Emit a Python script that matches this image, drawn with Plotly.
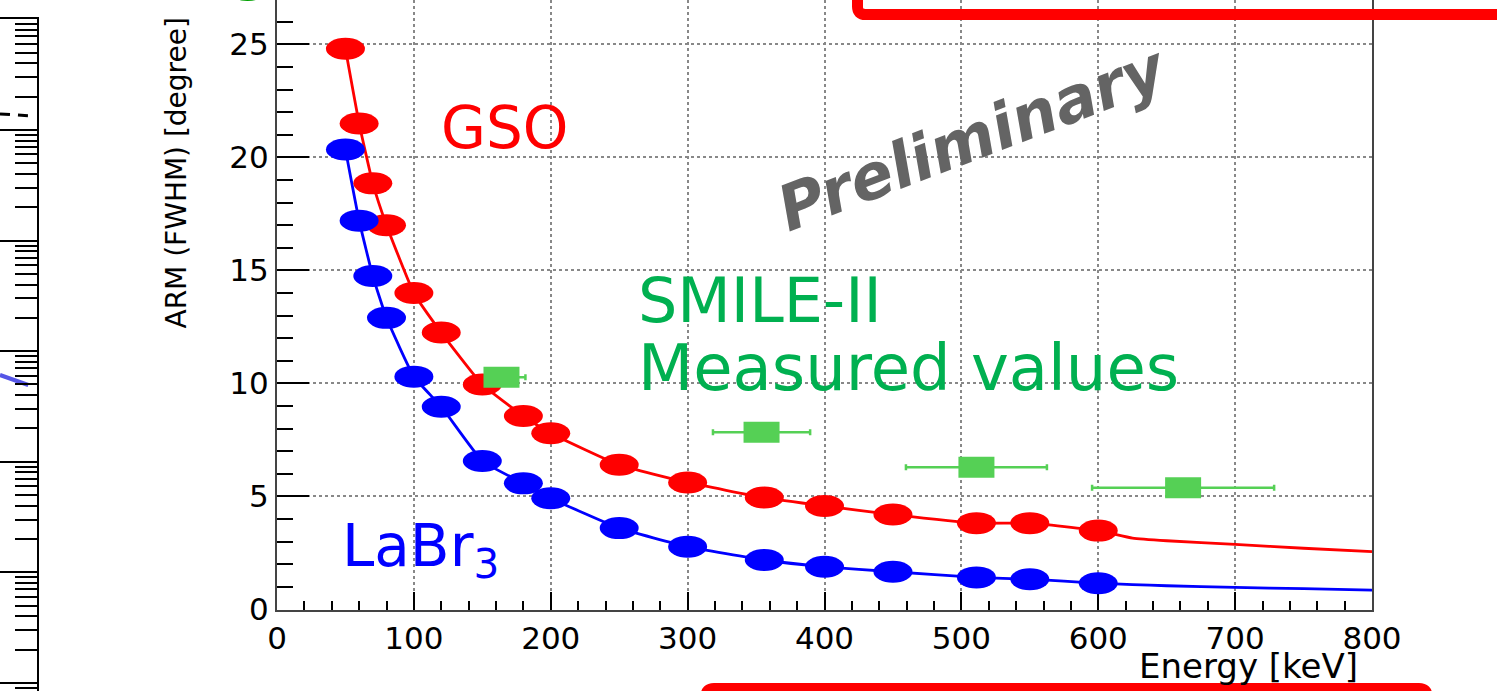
import plotly.graph_objects as go

W, H = 1497, 691

# ---------------- data ----------------
energy_sim = [50, 60, 70, 80, 100, 120, 150, 180, 200, 250, 300, 356, 400, 450, 511, 550, 600]
arm_gso = [24.8, 21.5, 18.85, 17.0, 14.0, 12.25, 9.95, 8.56, 7.8, 6.4, 5.62, 4.95, 4.58, 4.2, 3.82, 3.82, 3.49]
arm_labr3 = [20.35, 17.2, 14.75, 12.9, 10.3, 8.97, 6.57, 5.58, 4.92, 3.6, 2.78, 2.19, 1.89, 1.67, 1.42, 1.34, 1.16]

energy_ext = [625, 650, 700, 750, 800]
arm_gso_ext = [3.16, 3.04, 2.88, 2.71, 2.56]
arm_labr3_ext = [1.1, 1.05, 0.98, 0.92, 0.86]

energy_meas = [164, 354, 511, 662]
energy_meas_err = [17.5, 35.5, 51.5, 66.5]
arm_meas = [10.27, 7.84, 6.29, 5.38]

# partially visible neighbouring chart (left edge)
left_x_blue = [0.0, 0.77]
left_y_blue = [6.08, 4.94]
left_x_dash = [0.0, 0.87]
left_y_dash = [1393, 1336]

x_ticks = [0, 100, 200, 300, 400, 500, 600, 700, 800]
y_ticks = [0, 5, 10, 15, 20, 25]

RED = "#ff0000"
BLUE = "#0000ff"
GREEN_M = "#55d055"
GREEN_T = "#00b050"


def px(x):
    return x / W


def py(y):
    return 1 - y / H


fig = go.Figure()

# GSO curve
fig.add_trace(go.Scatter(x=energy_sim + energy_ext, y=arm_gso + arm_gso_ext, mode="lines",
                         line=dict(color=RED, width=2.8, shape="spline", smoothing=0.4),
                         showlegend=False, name="GSO"))
# LaBr3 curve
fig.add_trace(go.Scatter(x=energy_sim + energy_ext, y=arm_labr3 + arm_labr3_ext, mode="lines",
                         line=dict(color=BLUE, width=2.8, shape="spline", smoothing=0.4),
                         showlegend=False, name="LaBr3"))
# measured values with x error bars
fig.add_trace(go.Scatter(x=energy_meas, y=arm_meas, mode="markers",
                         marker=dict(symbol="square", size=2, color=GREEN_M),
                         error_x=dict(type="data", array=energy_meas_err, color=GREEN_M,
                                      thickness=2.5, width=3),
                         showlegend=False, name="SMILE-II measured"))

# left neighbouring chart traces
fig.add_trace(go.Scatter(x=left_x_blue, y=left_y_blue, xaxis="x2", yaxis="y2", mode="lines",
                         line=dict(color="#5555e6", width=4), showlegend=False))
fig.add_trace(go.Scatter(x=left_x_dash, y=left_y_dash, xaxis="x2", yaxis="y2", mode="lines",
                         line=dict(color="black", width=3, dash="10px,8px"), showlegend=False))

shapes = []
# elliptical markers (the picture is horizontally stretched)
for xs, ys, col in [(energy_sim, arm_gso, RED), (energy_sim, arm_labr3, BLUE)]:
    for xv, yv in zip(xs, ys):
        shapes.append(dict(type="circle", xref="x", yref="y", xsizemode="pixel", ysizemode="pixel",
                           xanchor=xv, yanchor=yv, x0=-19.5, x1=19.5, y0=-11, y1=11,
                           fillcolor=col, line=dict(width=0), layer="above"))
for xv, yv in zip(energy_meas, arm_meas):
    shapes.append(dict(type="rect", xref="x", yref="y", xsizemode="pixel", ysizemode="pixel",
                       xanchor=xv, yanchor=yv, x0=-18, x1=18, y0=-10.5, y1=10.5,
                       fillcolor=GREEN_M, line=dict(width=0), layer="above"))

# slide decorations: red rounded outlines
r = 8
top_path = (f"M {px(857.5)},{py(-20)} L {px(857.5)},{py(14.5 - r)} "
            f"Q {px(857.5)},{py(14.5)} {px(857.5 + r)},{py(14.5)} L {px(1530)},{py(14.5)}")
bot_path = (f"M {px(706)},{py(720)} L {px(706)},{py(688.5 + r)} "
            f"Q {px(706)},{py(688.5)} {px(706 + r)},{py(688.5)} L {px(1427 - r)},{py(688.5)} "
            f"Q {px(1427)},{py(688.5)} {px(1427)},{py(688.5 + r)} L {px(1427)},{py(720)}")
for p in (top_path, bot_path):
    shapes.append(dict(type="path", xref="paper", yref="paper", path=p,
                       line=dict(color=RED, width=11), layer="above"))

TXT = "DejaVu Sans"
annotations = [
    dict(text="GSO", x=px(504), y=py(128), xanchor="center", yanchor="middle",
         font=dict(family=TXT, size=58, color=RED)),
    dict(text="SMILE-II", x=px(636), y=py(300), xanchor="left", yanchor="middle",
         font=dict(family=TXT, size=62, color=GREEN_T)),
    dict(text="Measured values", x=px(636), y=py(368), xanchor="left", yanchor="middle",
         font=dict(family=TXT, size=64, color=GREEN_T)),
    dict(text="LaBr<sub>3</sub>", x=px(340), y=py(550), xanchor="left", yanchor="middle",
         font=dict(family=TXT, size=58, color=BLUE)),
    dict(text="Preliminary", x=px(972), y=py(138), xanchor="center", yanchor="middle", textangle=-21,
         font=dict(family=TXT, size=63, color="#646464", weight="bold", style="italic")),
    dict(text="ARM (FWHM) [degree]", x=px(176), y=py(16), xanchor="center", yanchor="top", textangle=-90,
         font=dict(family=TXT, size=28, color="black")),
    dict(text="Energy [keV]", x=px(1360), y=py(666), xanchor="right", yanchor="middle",
         font=dict(family=TXT, size=34, color="black")),
    dict(text="g", x=px(250), y=py(4), xanchor="center", yanchor="bottom",
         font=dict(family=TXT, size=60, color="#00a000", weight="bold")),
]
for a in annotations:
    a.update(xref="paper", yref="paper", showarrow=False)

axis_common = dict(showline=True, linecolor="#444", linewidth=2, mirror=True, automargin=False,
                   showgrid=True, gridcolor="#888", griddash="dot", gridwidth=1.5,
                   zeroline=False, ticks="inside", tickwidth=2, tickcolor="black",
                   tickfont=dict(family=TXT, size=31, color="black"))

fig.update_layout(
    width=W, height=H,
    margin=dict(l=0, r=0, t=0, b=0, pad=0, autoexpand=False),
    paper_bgcolor="white", plot_bgcolor="rgba(0,0,0,0)",
    showlegend=False,
    xaxis=dict(domain=[px(277), px(1372)], range=[0, 800], tickvals=x_ticks, ticklen=18, anchor="y",
               minor=dict(dtick=20, ticklen=9, tickwidth=2, ticks="inside", tickcolor="black", showgrid=False),
               **axis_common),
    yaxis=dict(domain=[81.5 / H, 1], range=[0, 26.96], tickvals=y_ticks, ticklen=32, anchor="x",
               minor=dict(dtick=1, ticklen=16, tickwidth=2, ticks="inside", tickcolor="black", showgrid=False),
               **axis_common),
    xaxis2=dict(domain=[0, px(36.7)], range=[0, 1], anchor="y2", side="top", showline=True,
                linecolor="black", linewidth=2, showticklabels=False, ticks="", showgrid=False,
                zeroline=False, automargin=False),
    yaxis2=dict(domain=[0, 1 - 19.3 / H], type="log", range=[-2.073, 4], anchor="x2", side="right",
                showline=True, linecolor="black", linewidth=2, ticks="inside", ticklen=40, tickwidth=2,
                tickcolor="black", dtick=1, showticklabels=False, showgrid=False, zeroline=False,
                automargin=False,
                minor=dict(ticks="inside", ticklen=22, tickwidth=2, dtick="D1", tickcolor="black",
                           showgrid=False)),
    shapes=shapes,
    annotations=annotations,
)

fig.write_html(
    "out.html",
    post_script="document.body.style.margin='0';document.body.style.overflow='hidden';",
)
